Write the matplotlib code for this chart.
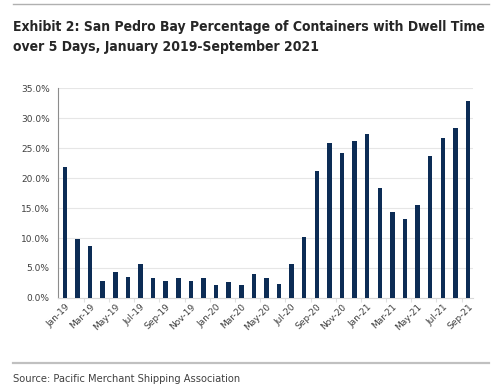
import matplotlib
matplotlib.use('Agg')
import matplotlib.pyplot as plt
from matplotlib.lines import Line2D
from matplotlib.ticker import FuncFormatter

months = ['Jan-19', 'Feb-19', 'Mar-19', 'Apr-19', 'May-19', 'Jun-19', 'Jul-19', 'Aug-19',
          'Sep-19', 'Oct-19', 'Nov-19', 'Dec-19', 'Jan-20', 'Feb-20', 'Mar-20', 'Apr-20',
          'May-20', 'Jun-20', 'Jul-20', 'Aug-20', 'Sep-20', 'Oct-20', 'Nov-20', 'Dec-20',
          'Jan-21', 'Feb-21', 'Mar-21', 'Apr-21', 'May-21', 'Jun-21', 'Jul-21', 'Aug-21',
          'Sep-21']
dwell_pct = [21.9, 9.8, 8.7, 2.9, 4.4, 3.5, 5.6, 3.3,
             2.8, 3.4, 2.9, 3.4, 2.2, 2.7, 2.1, 4.0,
             3.3, 2.3, 5.7, 10.1, 21.2, 25.8, 24.2, 26.1,
             27.4, 18.4, 14.4, 13.1, 15.5, 23.7, 26.7, 28.4,
             32.8]
yticks = [0, 5, 10, 15, 20, 25, 30, 35]

title = ('Exhibit 2: San Pedro Bay Percentage of Containers with Dwell Time\n'
         'over 5 Days, January 2019-September 2021')
source = 'Source: Pacific Merchant Shipping Association'

fig = plt.figure(figsize=(5.0, 3.88), dpi=100)
ax = fig.add_axes([0.116, 0.232, 0.830, 0.541])

x = list(range(len(months)))
ax.bar(x, dwell_pct, width=0.36, color='#0c2c55', zorder=3)

ax.set_ylim(0, 35)
ax.set_xlim(-0.55, 32.4)
ax.set_yticks(yticks)
ax.yaxis.set_major_formatter(FuncFormatter(lambda v, p: f'{v:.1f}%'))
ax.set_xticks(x[::2])
ax.set_xticklabels(months[::2], rotation=45, ha='right', rotation_mode='anchor')
# faint tick marks between category pairs, like excel
ax.set_xticks([i + 1.5 for i in x[::2][:-1]], minor=True)
ax.tick_params(axis='x', which='minor', length=3, color='#e0e0e0', width=0.8)
ax.tick_params(axis='both', which='major', labelsize=6.5, colors='#404040', length=0)
ax.tick_params(axis='x', pad=3)
ax.tick_params(axis='y', pad=6)
ax.grid(axis='y', color='#e6e6e6', linewidth=0.8, zorder=0)
for s in ['top', 'right']:
    ax.spines[s].set_visible(False)
ax.spines['left'].set_color('#8c8c8c')
ax.spines['left'].set_linewidth(0.8)
ax.spines['bottom'].set_color('#d9d9d9')
ax.spines['bottom'].set_linewidth(0.8)

# frame lines of the exhibit
fig.add_artist(Line2D([0.026, 0.978], [0.990, 0.990], color='#b0b0b0', lw=1.0))
fig.add_artist(Line2D([0.026, 0.978], [0.064, 0.064], color='#c0c0c0', lw=1.6))

fig.text(0.026, 0.905, title, fontsize=10, fontweight='bold', family='DejaVu Sans',
         stretch='condensed', color='#262626', va='center', linespacing=1.5)
fig.text(0.026, 0.022, source, fontsize=7.9, family='DejaVu Sans', stretch='condensed',
         color='#404040', va='center')

fig.savefig('out.png', dpi=100)
